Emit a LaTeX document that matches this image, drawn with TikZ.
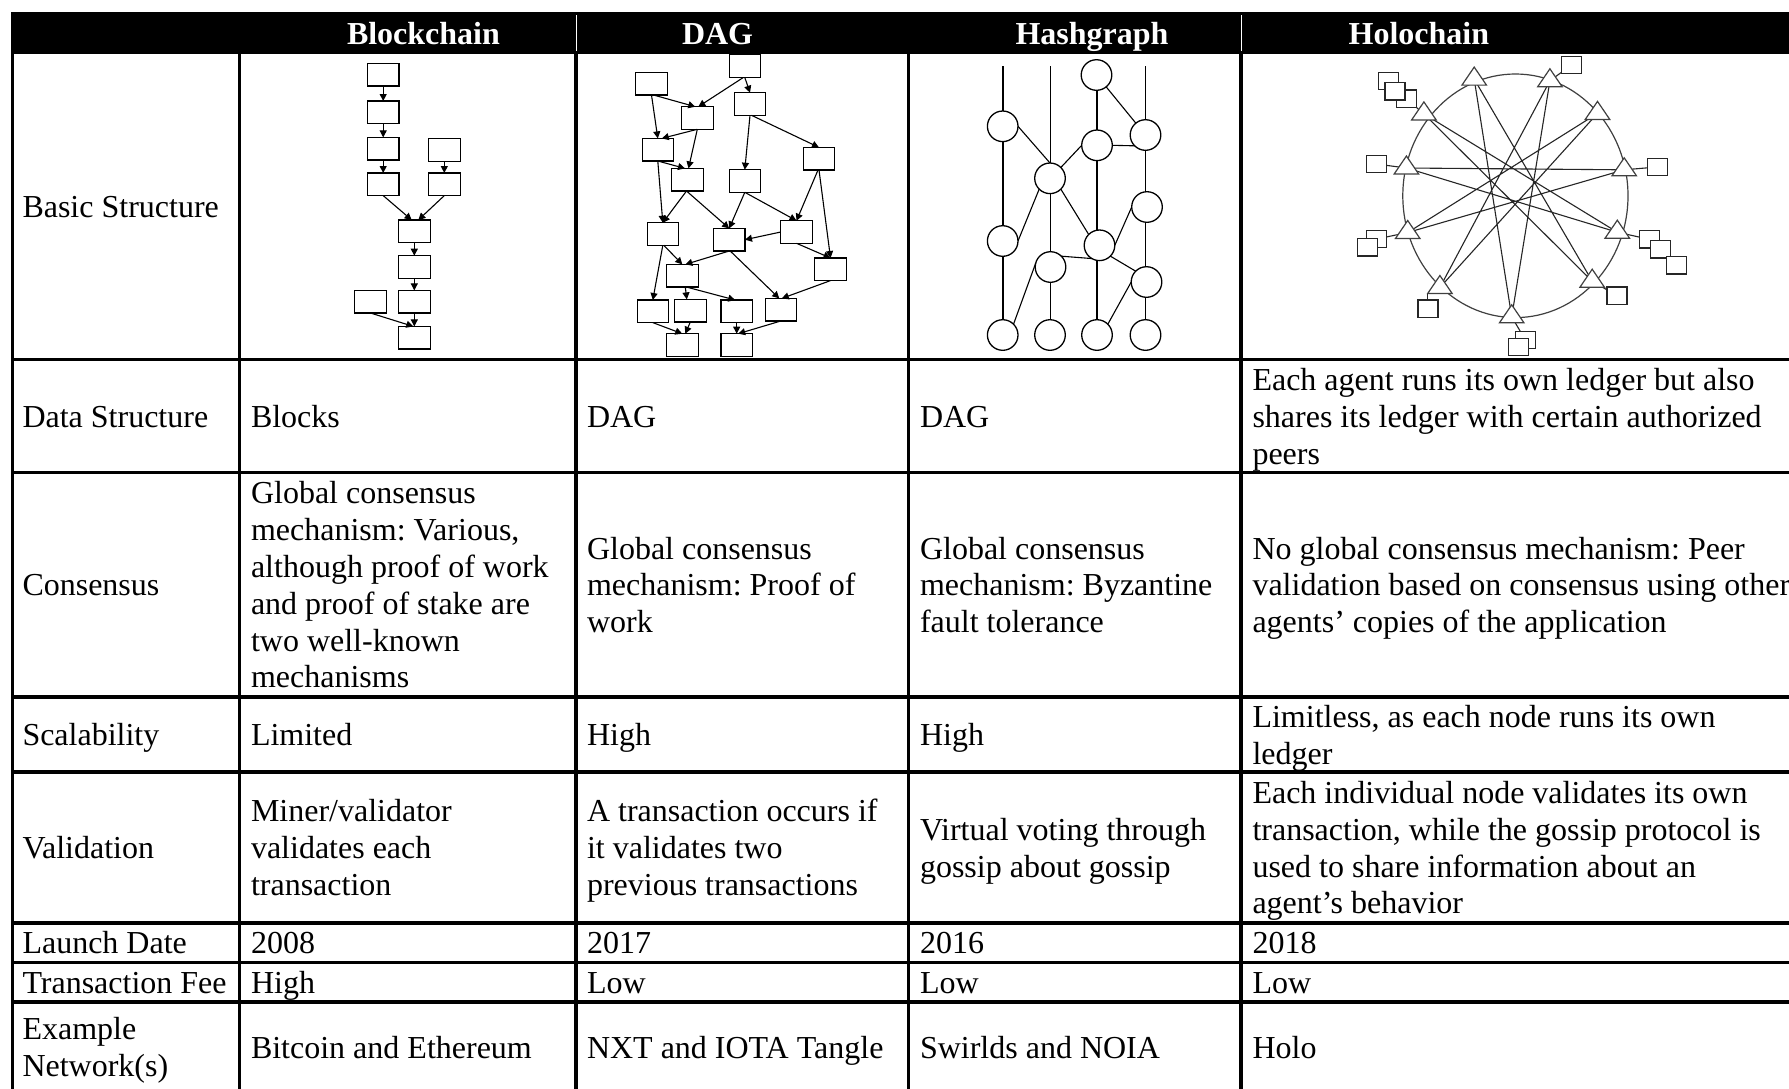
\documentclass[tikz,border=0pt]{standalone}
\usepackage{fontspec}
\setmainfont{Liberation Serif}
\usetikzlibrary{arrows.meta,calc}
% strut: every text line gets the same height/depth so rows stack at the baselineskip
\newcommand\cs{\rule[-7.2pt]{0pt}{36.8pt}}
\begin{document}
\begin{tikzpicture}[x=1pt,y=-1pt,
  grid/.style={line width=3.4pt, line cap=rect},
  cell/.style={anchor=west, inner sep=0pt, outer sep=0pt, align=left,
    font=\fontsize{32}{36.8}\selectfont\frenchspacing},
  hdr/.style={anchor=base west, inner sep=0pt, outer sep=0pt, text=white,
    font=\fontsize{32}{36.8}\selectfont\bfseries},
  blk/.style={draw, fill=white, line width=1.1pt, minimum width=31.5pt,
    minimum height=22.6pt, inner sep=0pt, outer sep=0pt},
  arr/.style={line width=1.1pt, -{Triangle[length=7pt,width=7pt]}},
  thread/.style={line width=1.6pt},
  ev/.style={draw, fill=white, circle, line width=1.3pt, minimum size=30.6pt,
    inner sep=0pt, outer sep=0pt},
  gossip/.style={line width=1.1pt},
  ring/.style={draw=black!75, line width=1.2pt},
  spoke/.style={draw=black!85, line width=1.1pt},
  tri/.style={draw=black!75, fill=white, line width=1.2pt, line join=miter},
  peer/.style={draw=black!85, fill=white, line width=1.2pt, minimum width=20pt,
    minimum height=17.5pt, inner sep=0pt, outer sep=0pt},
]
\useasboundingbox (0,0) rectangle (1789,1088);
\clip (0,0) rectangle (1789,1088);
\fill[white] (0,0) rectangle (1789,1088);

% ---------- header band ----------
\fill[black] (10.8,12) rectangle (1800,54);
\draw[white, line width=1pt] (576,15) -- (576,51);
\draw[white, line width=1pt] (1241,15) -- (1241,51);
\node[hdr] (hBlock) at (347,44) {Blockchain};
\node[hdr] (hDag)   at (682,44) {DAG};
\node[hdr] (hHash)  at (1015.5,44) {Hashgraph};
\node[hdr] (hHolo)  at (1348.6,44) {Holochain};

% ---------- table rules ----------
\foreach \x in {12.5,239.5,576,908.5,1241}
  \draw[grid] (\x,54) -- (\x,1092);
\foreach \y in {359.5,472.5,697,772,923,962.5,1002}
  \draw[grid] (12.5,\y) -- (1800,\y);

% ---------- first column ----------
\node[cell] (r1) at (22.5,206.75) {\cs Basic Structure};
\node[cell] (r2) at (22.5,416) {\cs Data Structure};
\node[cell] (r3) at (22.5,584.75) {\cs Consensus};
\node[cell] (r4) at (22.5,734.5) {\cs Scalability};
\node[cell] (r5) at (22.5,847.5) {\cs Validation};
\node[cell] (r6) at (22.5,942.75) {\cs Launch Date};
\node[cell] (r7) at (22.5,982.25) {\cs Transaction Fee};
\node[cell] (r8) at (22.5,1047) {\cs Example\\\cs Network(s)};

% ---------- Blockchain column ----------
\node[cell] (bc2) at (251,416) {\cs Blocks};
\node[cell] (bc3) at (251,584.75) {\cs Global consensus\\\cs mechanism: Various,\\\cs although proof of work\\\cs and proof of stake are\\\cs two well-known\\\cs mechanisms};
\node[cell] (bc4) at (251,734.5) {\cs Limited};
\node[cell] (bc5) at (251,847.5) {\cs Miner/validator\\\cs validates each\\\cs transaction};
\node[cell] (bc6) at (251,942.75) {\cs 2008};
\node[cell] (bc7) at (251,982.25) {\cs High};
\node[cell] (bc8) at (251,1047) {\cs Bitcoin and Ethereum};

% ---------- DAG column ----------
\node[cell] (dg2) at (587,416) {\cs DAG};
\node[cell] (dg3) at (587,584.75) {\cs Global consensus\\\cs mechanism: Proof of\\\cs work};
\node[cell] (dg4) at (587,734.5) {\cs High};
\node[cell] (dg5) at (587,847.5) {\cs A transaction occurs if\\\cs it validates two\\\cs previous transactions};
\node[cell] (dg6) at (587,942.75) {\cs 2017};
\node[cell] (dg7) at (587,982.25) {\cs Low};
\node[cell] (dg8) at (587,1047) {\cs NXT and IOTA Tangle};

% ---------- Hashgraph column ----------
\node[cell] (hg2) at (920,416) {\cs DAG};
\node[cell] (hg3) at (920,584.75) {\cs Global consensus\\\cs mechanism: Byzantine\\\cs fault tolerance};
\node[cell] (hg4) at (920,734.5) {\cs High};
\node[cell] (hg5) at (920,847.5) {\cs Virtual voting through\\\cs gossip about gossip};
\node[cell] (hg6) at (920,942.75) {\cs 2016};
\node[cell] (hg7) at (920,982.25) {\cs Low};
\node[cell] (hg8) at (920,1047) {\cs Swirlds and NOIA};

% ---------- Holochain column ----------
\node[cell] (ho2) at (1252.5,416) {\cs Each agent runs its own ledger but also\\\cs shares its ledger with certain authorized\\\cs peers};
\node[cell] (ho3) at (1252.5,584.75) {\cs No global consensus mechanism: Peer\\\cs validation based on consensus using other\\\cs agents’ copies of the application};
\node[cell] (ho4) at (1252.5,734.5) {\cs Limitless, as each node runs its own\\\cs ledger};
\node[cell] (ho5) at (1252.5,847.5) {\cs Each individual node validates its own\\\cs transaction, while the gossip protocol is\\\cs used to share information about an\\\cs agent’s behavior};
\node[cell] (ho6) at (1252.5,942.75) {\cs 2018};
\node[cell] (ho7) at (1252.5,982.25) {\cs Low};
\node[cell] (ho8) at (1252.5,1047) {\cs Holo};

% ---------- blockchain: main chain with a merged fork ----------
\node[blk] (a1) at (383.2,74.7) {};
\node[blk] (a2) at (383.2,112.3) {};
\node[blk] (a3) at (383.2,148.7) {};
\node[blk] (a4) at (383.2,184.3) {};
\node[blk] (b1) at (444.3,150) {};
\node[blk] (b2) at (444.3,184.3) {};
\node[blk] (c1) at (414.3,231.3) {};
\node[blk] (c2) at (414.3,267) {};
\node[blk] (c3) at (414.3,301.7) {};
\node[blk] (c4) at (414.3,337.7) {};
\node[blk] (e1) at (370.5,301.7) {};
\draw[arr] (a1.south) -- (a2.north);
\draw[arr] (a2.south) -- (a3.north);
\draw[arr] (a3.south) -- (a4.north);
\draw[arr] (b1.south) -- (b2.north);
\draw[arr] (a4.south) -- ([xshift=-2.6pt]c1.north);
\draw[arr] (b2.south) -- ([xshift=4pt]c1.north);
\draw[arr] (c1.south) -- (c2.north);
\draw[arr] (c2.south) -- (c3.north);
\draw[arr] (c3.south) -- (c4.north);
\draw[arr] (e1.south) -- ([xshift=-1pt]c4.north);

% ---------- DAG of transactions ----------
\node[blk] (d1) at (744.8,66.2) {};
\node[blk] (d2) at (651.5,83.7) {};
\node[blk] (d3) at (697.3,118) {};
\node[blk] (d4) at (750,104) {};
\node[blk] (d5) at (657.8,149.7) {};
\node[blk] (d6) at (819,158.7) {};
\node[blk] (d7) at (687.5,179.7) {};
\node[blk] (d8) at (744.8,181) {};
\node[blk] (d9) at (662.8,234) {};
\node[blk] (d10) at (729.2,239.7) {};
\node[blk] (d11) at (796.5,232) {};
\node[blk] (d12) at (682.3,275.7) {};
\node[blk] (d13) at (830.5,269.3) {};
\node[blk] (d14) at (652.8,311.3) {};
\node[blk] (d15) at (690.3,310.7) {};
\node[blk] (d16) at (736.7,311.3) {};
\node[blk] (d17) at (780.8,309.7) {};
\node[blk] (d18) at (682.3,345) {};
\node[blk] (d19) at (736.7,345) {};
\draw[arr] ([xshift=-1.5pt]d1.south) -- ([xshift=1pt]d3.north);
\draw[arr] (d1.south) -- (d4.north);
\draw[arr] ([xshift=2pt]d2.south) -- ([xshift=-2pt]d3.north);
\draw[arr] (d2.south) -- (d5.north);
\draw[arr] (d3.south) -- ([xshift=4pt]d5.north);
\draw[arr] (d3.south) -- ([xshift=1pt]d7.north);
\draw[arr] (d5.south) -- ([xshift=-2.5pt]d7.north);
\draw[arr] (d5.south) -- (d9.north);
\draw[arr] (d4.south) -- (d8.north);
\draw[arr] ([xshift=1.5pt]d4.south) -- (d6.north);
\draw[arr] ([xshift=-1pt]d7.south) -- (d9.north);
\draw[arr] ([xshift=-1pt]d7.south) -- (d10.north);
\draw[arr] (d8.south) -- (d10.north);
\draw[arr] (d8.south) -- (d11.north);
\draw[arr] ([xshift=-1pt]d6.south) -- (d11.north);
\draw[arr] (d6.south) -- (d13.north);
\draw[arr] (d11.west) -- (d10.east);
\draw[arr] (d11.south) -- (d13.north);
\draw[arr] ([xshift=1pt]d9.south) -- (d12.north);
\draw[arr] (d9.south) -- (d14.north);
\draw[arr] (d10.south) -- ([xshift=3pt]d12.north);
\draw[arr] ([xshift=1pt]d10.south) -- ([xshift=-1.5pt]d17.north);
\draw[arr] (d13.south) -- ([xshift=1pt]d17.north);
\draw[arr] ([xshift=3pt]d12.south) -- ([xshift=-3.5pt]d15.north);
\draw[arr] ([xshift=4pt]d12.south) -- ([xshift=-1.5pt]d16.north);
\draw[arr] (d14.south) -- (d18.north);
\draw[arr] (d15.south) -- ([xshift=3pt]d18.north);
\draw[arr] (d16.south) -- (d19.north);
\draw[arr] (d17.south) -- ([xshift=1.5pt]d19.north);

% ---------- hashgraph: four member threads ----------
\draw[thread] (1002.7,66) -- (1002.7,335);
\draw[thread] (1050.5,66) -- (1050.5,335);
\draw[thread] (1097,75) -- (1097,335);
\draw[thread] (1145.5,66) -- (1145.5,335);
\node[ev] (hA1) at (1002.7,126.3) {};
\node[ev] (hA2) at (1002.7,241) {};
\node[ev] (hA3) at (1002.7,335) {};
\node[ev] (hB1) at (1050,178.3) {};
\node[ev] (hB2) at (1050.5,267) {};
\node[ev] (hB3) at (1050,335) {};
\node[ev] (hC0) at (1096.5,75) {};
\node[ev] (hC1) at (1097,145.3) {};
\node[ev] (hC2) at (1099.5,245.3) {};
\node[ev] (hC3) at (1097,335) {};
\node[ev] (hD1) at (1145.5,135) {};
\node[ev] (hD2) at (1147,207) {};
\node[ev] (hD3) at (1146.5,282) {};
\node[ev] (hD4) at (1145.5,335) {};
\draw[gossip] (hC0) -- (hD1);
\draw[gossip] (hA1.east) -- (hB1.north);
\draw[gossip] (hB1.north east) -- (hC1.west);
\draw[gossip] (hC1.east) -- (hD1.south west);
\draw[gossip] (hB1.south west) -- (hA2.east);
\draw[gossip] (hB1.south east) -- (hC2.north west);
\draw[gossip] (hC2.east) -- (hD2.west);
\draw[gossip] (hB2.north east) -- (hC2.-120);
\draw[gossip] (hC2.south east) -- (hD3.north west);
\draw[gossip] (hA3.north east) -- (hB2.165);
\draw[gossip] (hC3.north east) -- (hD3.west);

% ---------- holochain: agents on a ring ----------
\coordinate (t1) at (1474.2,79.1);
\coordinate (t2) at (1549.9,80.8);
\coordinate (t3) at (1423.9,113.9);
\coordinate (t4) at (1597.5,113.4);
\coordinate (t5) at (1406.4,168);
\coordinate (t6) at (1624.2,169.8);
\coordinate (t7) at (1407.7,232.5);
\coordinate (t8) at (1617.3,232.2);
\coordinate (t9) at (1439.9,287.5);
\coordinate (t10) at (1592.2,281.2);
\coordinate (t11) at (1511.7,316.8);
\draw[ring] (1515.4,195.8) ellipse [x radius=112.6pt, y radius=121.8pt];
\draw[spoke] (t1) -- (t11) (t1) -- (t10) (t2) -- (t9) (t2) -- (t11)
  (t3) -- (t8) (t3) -- (t10) (t4) -- (t7) (t4) -- (t9)
  (t5) -- (t6) (t5) -- (t8) (t6) -- (t7);
% each agent's own source chain copies
\node[peer] (s2) at (1571.4,65) {};
\node[peer] (s3a) at (1388.7,81) {};
\node[peer] (s3c) at (1406.3,98.7) {};
\node[peer] (s3b) at (1395,91.3) {};
\node[peer] (s5) at (1376.2,164) {};
\node[peer] (s7a) at (1376.8,239) {};
\node[peer] (s7b) at (1367.3,247.2) {};
\node[peer] (s9) at (1427.9,308.7) {};
\node[peer] (s11a) at (1525.4,340) {};
\node[peer] (s11b) at (1518.4,347) {};
\node[peer] (s10) at (1617,295.7) {};
\node[peer] (s8a) at (1649.2,239.3) {};
\node[peer] (s8b) at (1660.6,249.3) {};
\node[peer] (s8c) at (1676.5,265.3) {};
\node[peer] (s6) at (1657.2,167) {};
\draw[spoke] (t2) -- (s2);
\draw[spoke] (t3) -- (s3c);
\draw[spoke] (t5) -- (s5);
\draw[spoke] (t7) -- (s7a);
\draw[spoke] (s9.north) -- ++(0,-7);
\draw[spoke] (t11) -- (s11a);
\draw[spoke] (t10) -- (s10);
\draw[spoke] (t8) -- (s8a);
\draw[spoke] (t6) -- (s6);
\foreach \t in {t1,t2,t3,t4,t5,t6,t7,t8,t9,t10,t11}
  \filldraw[tri] ($(\t)+(-12.25,6)$) -- ($(\t)+(12.25,6)$) -- ($(\t)+(0,-12)$) -- cycle;
\end{tikzpicture}
\end{document}
